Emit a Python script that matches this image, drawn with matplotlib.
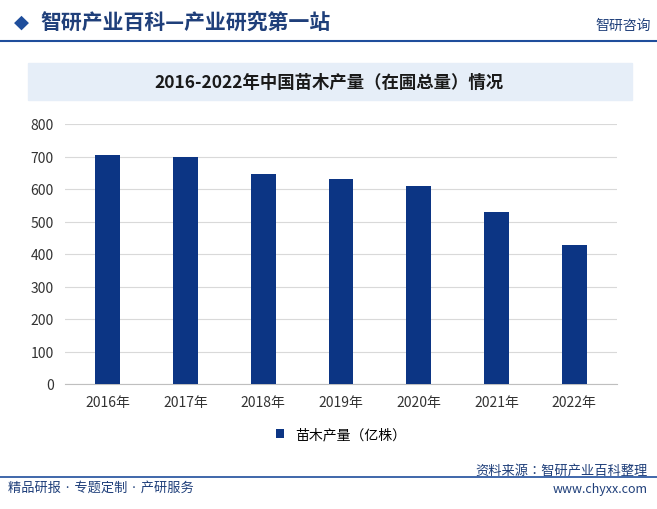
import matplotlib.pyplot as plt
from matplotlib import font_manager
from matplotlib.patches import Rectangle

cjk = sorted({f.name for f in font_manager.fontManager.ttflist if "CJK" in f.name})
plt.rcParams["font.family"] = cjk + ["DejaVu Sans"]

YEARS = ["2016年", "2017年", "2018年", "2019年", "2020年", "2021年", "2022年"]
OUTPUT = [705, 698, 646, 631, 610, 530, 428]
BAR_COLOR = "#0c3584"

fig = plt.figure(figsize=(6.57, 5.10), dpi=100)
W, H = 657, 510

def fx(x):
    return x / W

def fy(y):
    return 1 - y / H

# header
fig.text(fx(14), fy(22), "◆", color="#1f4e9c", fontsize=14, va="center", family="DejaVu Sans")
fig.text(fx(40), fy(22), "智研产业百科—产业研究第一站", color="#1f3f7a",
         fontsize=15, fontweight="bold", va="center")
fig.text(fx(595), fy(26), "智研咨询", color="#1f3f7a", fontsize=10, va="center")
fig.add_artist(plt.Line2D([0, 1], [fy(42), fy(42)], color="#1f4e9c", lw=1.5))

# title band
fig.add_artist(Rectangle((fx(28), fy(101)), fx(604), fy(64) - fy(101),
                         color="#e6eef8", transform=fig.transFigure, zorder=0))
fig.text(0.5, fy(83), "2016-2022年中国苗木产量（在圃总量）情况", ha="center",
         va="center", fontsize=12.5, fontweight="bold", color="#1a1a1a")

ax = fig.add_axes([fx(65), fy(385), fx(617) - fx(65), fy(125) - fy(385)])
ax.bar(YEARS, OUTPUT, width=0.32, color=BAR_COLOR, label="苗木产量（亿株）", zorder=3)
ax.set_ylim(0, 800)
ax.set_yticks(range(0, 801, 100))
ax.grid(axis="y", color="#d9d9d9", lw=0.8, zorder=0)
for s in ["top", "right", "left"]:
    ax.spines[s].set_visible(False)
ax.spines["bottom"].set_color("#bfbfbf")
ax.tick_params(axis="both", length=0, labelsize=10, colors="#333333", pad=8)
ax.set_xlim(-0.55, 6.55)
ax.legend(loc="upper center", bbox_to_anchor=(0.5, -0.12), frameon=False,
          fontsize=10, handlelength=0.6, handleheight=0.6)

# footer
fig.add_artist(plt.Line2D([0, 1], [fy(478), fy(478)], color="#1f4e9c", lw=1.2))
fig.text(fx(8), fy(488), "精品研报 · 专题定制 · 产研服务", fontsize=9.5,
         color="#1f3f7a", va="center")
fig.text(fx(648), fy(471), "资料来源：智研产业百科整理", fontsize=9.5,
         color="#1f3f7a", va="center", ha="right")
fig.text(fx(648), fy(490), "www.chyxx.com", fontsize=9, color="#1f3f7a",
         va="center", ha="right")

fig.savefig("out.png", dpi=100)
